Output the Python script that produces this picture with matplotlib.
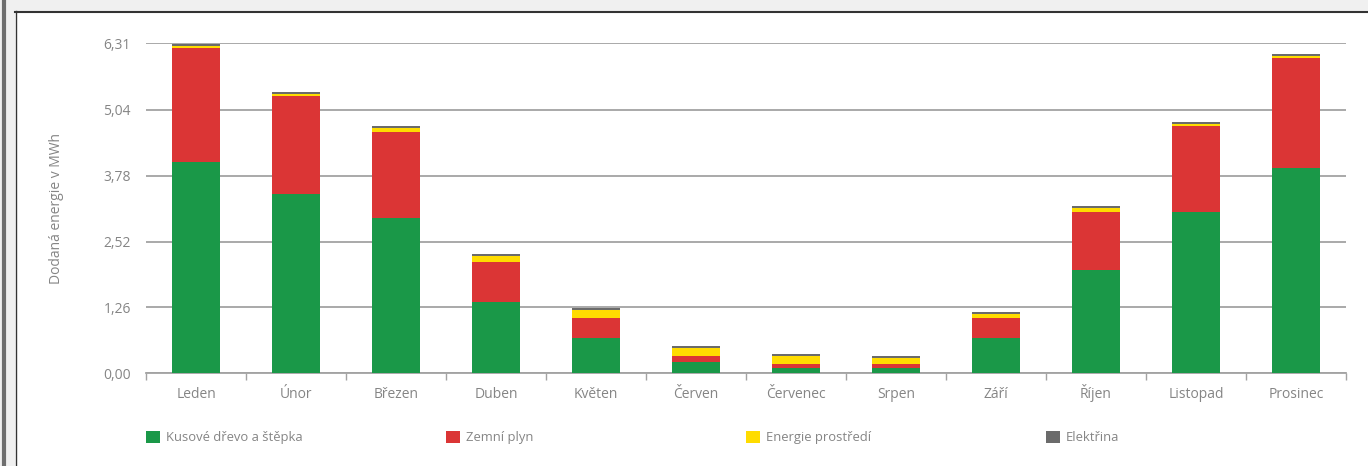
import numpy as np
import matplotlib.pyplot as plt
from matplotlib.patches import Rectangle

# Data (MWh per month)
months = ['Leden', 'Únor', 'Březen', 'Duben', 'Květen', 'Červen',
          'Červenec', 'Srpen', 'Září', 'Říjen', 'Listopad', 'Prosinec']
drevo = [4.04, 3.43, 2.97, 1.37, 0.68, 0.22, 0.10, 0.10, 0.68, 1.98, 3.09, 3.93]
plyn = [2.18, 1.87, 1.64, 0.76, 0.38, 0.11, 0.08, 0.08, 0.38, 1.10, 1.64, 2.10]
prostredi = [0.04, 0.04, 0.08, 0.11, 0.15, 0.15, 0.15, 0.11, 0.08, 0.08, 0.04, 0.04]
elektrina = [0.04, 0.04, 0.04, 0.04, 0.04, 0.04, 0.04, 0.04, 0.04, 0.04, 0.04, 0.04]
series_names = ['Kusové dřevo a štěpka', 'Zemní plyn', 'Energie prostředí', 'Elektřina']
yticks = [0.0, 1.26, 2.52, 3.78, 5.04, 6.31]
ytick_labels = ['0,00', '1,26', '2,52', '3,78', '5,04', '6,31']

colors = ['#1a9848', '#db3535', '#ffdc00', '#6b6b6b']
text_col = '#858585'
grid_col = '#a3a3a3'

plt.rcParams['font.family'] = ['Open Sans', 'DejaVu Sans']

W, H = 1368, 466
fig = plt.figure(figsize=(W / 100, H / 100), dpi=100, facecolor='#f0f0f0')

# Panel frame
fig.patches.append(Rectangle((15 / W, 0), 1 - 15 / W, (H - 11) / H,
                             transform=fig.transFigure, facecolor='white',
                             edgecolor='none', zorder=-5))
fig.add_artist(plt.Line2D([15 / W, 1], [(H - 11.5) / H] * 2, color='#333333', lw=1.5,
                          transform=fig.transFigure))
fig.add_artist(plt.Line2D([15.5 / W] * 2, [0, (H - 11) / H], color='#333333', lw=1,
                          transform=fig.transFigure))
fig.add_artist(plt.Line2D([3.5 / W] * 2, [0, 1], color='#6e6e6e', lw=3,
                          transform=fig.transFigure))

ax_left, ax_right = 146 / W, 1346 / W
ax_bottom, ax_top = (H - 373.3) / H, (H - 43.3) / H
ax = fig.add_axes([ax_left, ax_bottom, ax_right - ax_left, ax_top - ax_bottom])
ax.set_facecolor('none')

x = np.arange(len(months))
bottom = np.zeros(len(months))
bars = []
for vals, col, name in zip([drevo, plyn, prostredi, elektrina], colors, series_names):
    b = ax.bar(x, vals, width=0.48, bottom=bottom, color=col, label=name, zorder=3)
    bars.append(b)
    bottom += np.array(vals)

ax.set_xlim(-0.5, len(months) - 0.5)
ax.set_ylim(0, 6.31)
ax.set_yticks(yticks)
ax.set_yticklabels(ytick_labels)
ax.yaxis.grid(True, color=grid_col, linewidth=1.3, zorder=0)
ax.tick_params(axis='y', length=0, pad=11, labelsize=10, labelcolor=text_col)

ax.set_xticks(x)
ax.set_xticklabels(months, va='baseline')
ax.set_xticks(np.arange(-0.5, len(months)), minor=True)
ax.tick_params(axis='x', which='major', length=0, pad=17.5, labelsize=10, labelcolor=text_col)
ax.tick_params(axis='x', which='minor', length=5, width=1, color=grid_col)

for s in ['top', 'right', 'left']:
    ax.spines[s].set_visible(False)
ax.spines['bottom'].set_color(grid_col)
ax.spines['bottom'].set_linewidth(1.3)

fig.text(57 / W, 1 - 208 / H, 'Dodaná energie v MWh', rotation=90, ha='center',
         va='center', fontsize=10, color=text_col)

# Legend entries at fixed spacing
for i, (b, name) in enumerate(zip(bars, series_names)):
    lx = (146 + 300 * i) / W
    fig.legend([b], [name], loc='center left', bbox_to_anchor=(lx, 1 - 437.5 / H),
               frameon=False, fontsize=9.4, labelcolor=text_col, handlelength=1.1,
               handleheight=1.1, handletextpad=0.4, borderaxespad=0, borderpad=0)

plt.savefig('out.png', dpi=100, facecolor=fig.get_facecolor())
